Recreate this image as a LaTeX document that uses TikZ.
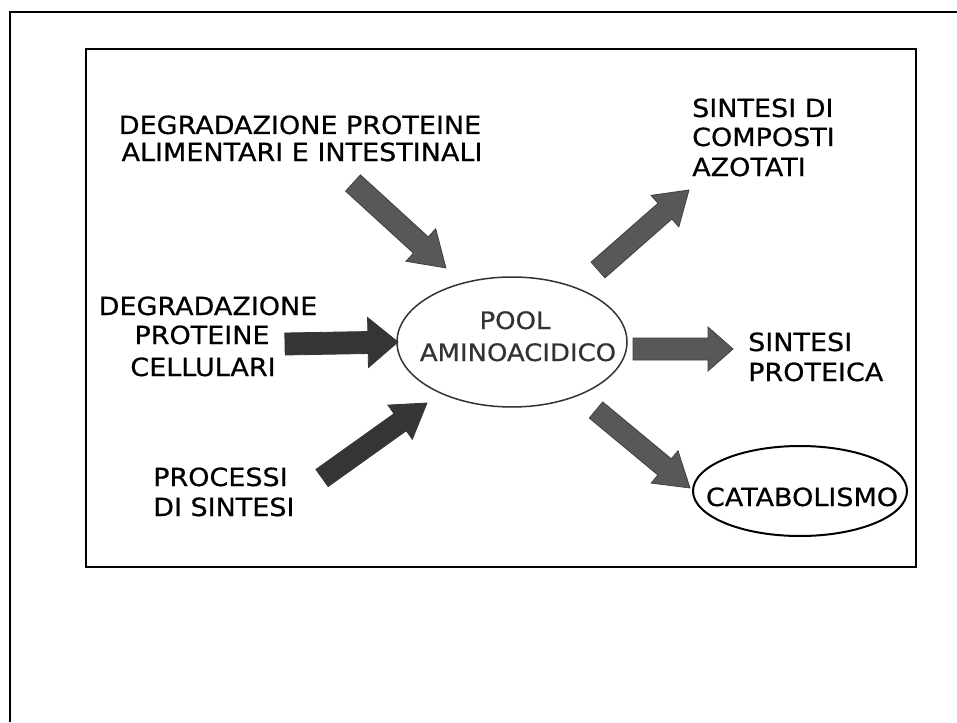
\documentclass[tikz,border=0pt]{standalone}
\usepackage{fontspec}
\setmainfont{DejaVu Sans}
\newfontfamily\lblfont{DejaVu Sans}[FakeBold=0.6, FakeStretch=1.08]
\usetikzlibrary{shapes.geometric}
\definecolor{arrgray}{HTML}{585858}
\definecolor{arrdark}{HTML}{353535}
\definecolor{edgegray}{HTML}{404040}
\definecolor{pooltext}{HTML}{333333}
\tikzset{
  lbl/.style={font=\lblfont\fontsize{25}{30}\selectfont, inner sep=0pt, text=black},
  pooltxt/.style={font=\lblfont\fontsize{24}{30}\selectfont, inner sep=0pt, text=pooltext},
  garrow/.style={fill=arrgray, draw=edgegray, line width=0.8pt, line join=miter},
  darrow/.style={fill=arrdark, draw=arrdark, line width=0.8pt, line join=miter},
  frame/.style={line width=2.5pt, draw=black},
}
% #1 style, #2 tail coordinate, #3 tip coordinate, #4 half shaft, #5 half head, #6 head length
\newcommand\blockarr[6]{%
  \pgfpointdiff{\pgfpointanchor{#2}{center}}{\pgfpointanchor{#3}{center}}%
  \pgfgetlastxy{\bdx}{\bdy}%
  \pgfmathsetmacro\bang{atan2(\bdy,\bdx)}%
  \pgfmathsetmacro\blen{veclen(\bdx,\bdy)}%
  \pgfmathsetmacro\bbase{\blen-#6}%
  \begin{scope}[shift={(#2)},rotate=\bang]
    \path[#1] (0pt,#4pt) -- (\bbase pt,#4pt) -- (\bbase pt,#5pt) -- (\blen pt,0pt)
      -- (\bbase pt,-#5pt) -- (\bbase pt,-#4pt) -- (0pt,-#4pt) -- cycle;
  \end{scope}}
\begin{document}
\begin{tikzpicture}[x=1pt,y=-1pt]
\useasboundingbox (0,0) rectangle (957,722);
\fill[white] (0,0) rectangle (957,722);
% frames
\draw[frame] (10,722) -- (10,12) -- (957,12);
\draw[frame] (86,49) rectangle (916,567);

% central ellipse
\node[ellipse, draw=pooltext, line width=1.5pt, minimum width=230pt, minimum height=130pt, inner sep=0pt] (pool) at (512,342) {};
\node[pooltxt, anchor=base] (poolA) at (515,329) {POOL};
\node[pooltxt, anchor=base] (poolB) at (518,361) {AMINOACIDICO};

% catabolismo ellipse
\node[ellipse, draw=black, line width=2pt, minimum width=214pt, minimum height=90pt, inner sep=0pt] (catab) at (800,491) {};
\node[lbl, font=\lblfont\fontsize{25}{30}\selectfont, anchor=base] (catabT) at (802,506) {CATABOLISMO};

% labels
\node[lbl, anchor=base] (t1a) at (300,134) {DEGRADAZIONE PROTEINE};
\node[lbl, anchor=base] (t1b) at (302,161) {ALIMENTARI E INTESTINALI};

\node[lbl, anchor=base] (t2a) at (208,315) {DEGRADAZIONE};
\node[lbl, anchor=base] (t2b) at (202,344) {PROTEINE};
\node[lbl, anchor=base] (t2c) at (203,376) {CELLULARI};

\node[lbl, anchor=base west] (t3a) at (153,486) {PROCESSI};
\node[lbl, anchor=base west] (t3b) at (153,516) {DI SINTESI};

\node[lbl, anchor=base west] (t4a) at (692,117) {SINTESI DI};
\node[lbl, anchor=base west] (t4b) at (692,146) {COMPOSTI};
\node[lbl, anchor=base west] (t4c) at (692,176) {AZOTATI};

\node[lbl, anchor=base west] (t5a) at (748,351) {SINTESI};
\node[lbl, anchor=base west] (t5b) at (748,381) {PROTEICA};

% arrow end points
\coordinate (a1s) at (353,183); \coordinate (a1e) at (446,268);
\coordinate (a2s) at (285,344); \coordinate (a2e) at (398,342);
\coordinate (a3s) at (322,478); \coordinate (a3e) at (427,403);
\coordinate (a4s) at (598,270); \coordinate (a4e) at (689,190);
\coordinate (a5s) at (633,349); \coordinate (a5e) at (733,349);
\coordinate (a6s) at (596,410); \coordinate (a6e) at (690,488);

\blockarr{garrow}{a1s}{a1e}{11}{22}{34}
\blockarr{darrow}{a2s}{a2e}{11}{25}{30}
\blockarr{darrow}{a3s}{a3e}{10.5}{21}{33}
\blockarr{garrow}{a4s}{a4e}{10.5}{21}{32}
\blockarr{garrow}{a5s}{a5e}{11}{22}{25}
\blockarr{garrow}{a6s}{a6e}{10.5}{21}{33}
\end{tikzpicture}
\end{document}
